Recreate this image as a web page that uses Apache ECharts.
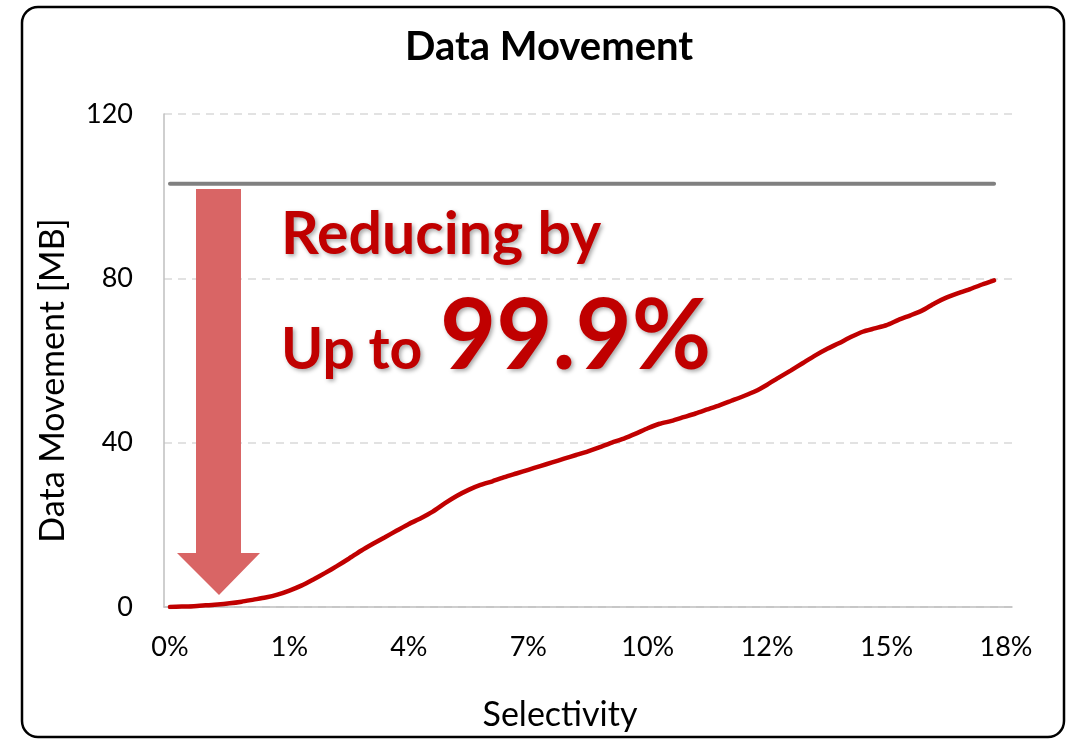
<!DOCTYPE html>
<html>
<head>
<meta charset="utf-8">
<script src="https://cdn.jsdelivr.net/npm/echarts@6/dist/echarts.min.js"></script>
<style>
html,body{margin:0;padding:0;background:#fff;}
#chart{width:1068px;height:740px;}
</style>
</head>
<body>
<div id="chart"></div>
<script>
// Tick labels shown every 10 categories
const tickLabels = ['0%', '1%', '4%', '7%', '10%', '12%', '15%', '18%'];
const labelStep = 10;
// Data movement with selectivity-based filtering [MB] (70 measured points)
const filteredMB = [
  0, 0.1, 0.2, 0.4, 0.6, 0.9, 1.3, 1.8, 2.3, 3.0,
  4.0, 5.2, 6.7, 8.3, 10.0, 11.8, 13.7, 15.4, 17.0, 18.6,
  20.2, 21.6, 23.2, 25.2, 27.0, 28.5, 29.7, 30.6, 31.6, 32.5,
  33.4, 34.3, 35.2, 36.1, 37.0, 37.9, 38.9, 40.0, 41.0, 42.2,
  43.5, 44.6, 45.3, 46.2, 47.1, 48.1, 49.1, 50.2, 51.3, 52.5,
  54.1, 55.9, 57.6, 59.4, 61.2, 62.8, 64.2, 65.7, 67.0, 67.8,
  68.6, 69.9, 71.0, 72.2, 73.9, 75.3, 76.4, 77.4, 78.5, 79.5
];
// Baseline data movement without filtering [MB]
const baselineValue = 103;
const baselineMB = filteredMB.map(() => baselineValue);
// Categories: one per measured point plus one trailing slot for the last tick label
const categories = Array.from({length: filteredMB.length + 1}, (_, i) => String(i));

const FONT = 'Lato, "Open Sans", sans-serif';
const chart = echarts.init(document.getElementById('chart'));
const textShadow = {
  textShadowColor: 'rgba(0,0,0,0.35)', textShadowBlur: 4, textShadowOffsetX: 2, textShadowOffsetY: 2,
  shadowColor: 'rgba(0,0,0,0.35)', shadowBlur: 4, shadowOffsetX: 2, shadowOffsetY: 2
};
chart.setOption({
  animation: false,
  backgroundColor: '#fff',
  title: {
    text: 'Data Movement',
    left: 400,
    top: 22,
    textStyle: {fontFamily: FONT, fontWeight: 'bold', fontSize: 40, color: '#000'}
  },
  grid: {left: 164, top: 114, right: 56, bottom: 133, containLabel: false},
  xAxis: {
    type: 'category',
    data: categories,
    boundaryGap: true,
    axisLine: {show: true, lineStyle: {color: '#BFBFBF', width: 1.5}},
    axisTick: {show: false},
    axisLabel: {
      interval: labelStep - 1,
      margin: 27,
      fontFamily: FONT, fontSize: 27, color: '#000',
      formatter: (v, idx) => tickLabels[Math.round(idx / labelStep)] || ''
    },
    name: 'Selectivity',
    nameLocation: 'middle',
    nameGap: 91,
    nameTextStyle: {fontFamily: FONT, fontSize: 34, color: '#000', padding: [0, 56, 0, 0]}
  },
  yAxis: {
    type: 'value',
    min: 0, max: 120, interval: 40,
    axisLine: {show: true, lineStyle: {color: '#BFBFBF', width: 1.5}},
    axisTick: {show: false},
    axisLabel: {margin: 31, fontFamily: FONT, fontSize: 27, color: '#000'},
    splitLine: {show: true, lineStyle: {color: '#D9D9D9', type: [8, 6], width: 1.5}},
    name: 'Data Movement [MB]',
    nameLocation: 'middle',
    nameGap: 94,
    nameRotate: 90,
    nameTextStyle: {fontFamily: FONT, fontSize: 34, color: '#000', padding: [0, 40, 0, 0]}
  },
  series: [
    {
      name: 'Baseline',
      type: 'line',
      data: baselineMB,
      symbol: 'none',
      lineStyle: {color: '#808080', width: 4, cap: 'round'},
      z: 2
    },
    {
      name: 'Filtered',
      type: 'line',
      data: filteredMB,
      symbol: 'none',
      smooth: 0.2,
      lineStyle: {color: '#C00000', width: 4.5, cap: 'round'},
      z: 3
    }
  ],
  graphic: [
    {
      type: 'rect',
      shape: {x: 22, y: 7, width: 1042, height: 730, r: 16},
      style: {fill: 'none', stroke: '#000', lineWidth: 2.5},
      silent: true, z: 100
    },
    {
      type: 'polygon',
      shape: {points: [[196, 189], [241, 189], [241, 553], [260, 553], [219, 595], [177, 553], [196, 553]]},
      style: {fill: '#D96565'},
      z: 50
    },
    {
      type: 'text',
      style: Object.assign({x: 281, y: 205, text: 'Reducing by', font: 'bold 59px ' + FONT, fill: '#C00000', verticalAlign: 'top'}, textShadow),
      z: 60
    },
    {
      type: 'text',
      style: Object.assign({x: 281, y: 322, text: 'Up to', font: 'bold 57px ' + FONT, fill: '#C00000', verticalAlign: 'top'}, textShadow),
      z: 60
    },
    {
      type: 'text',
      style: Object.assign({x: 440, y: 289, text: '99.9%', font: 'bold 97px ' + FONT, fill: '#C00000', verticalAlign: 'top'}, textShadow),
      z: 60
    }
  ]
});
</script>
</body>
</html>
